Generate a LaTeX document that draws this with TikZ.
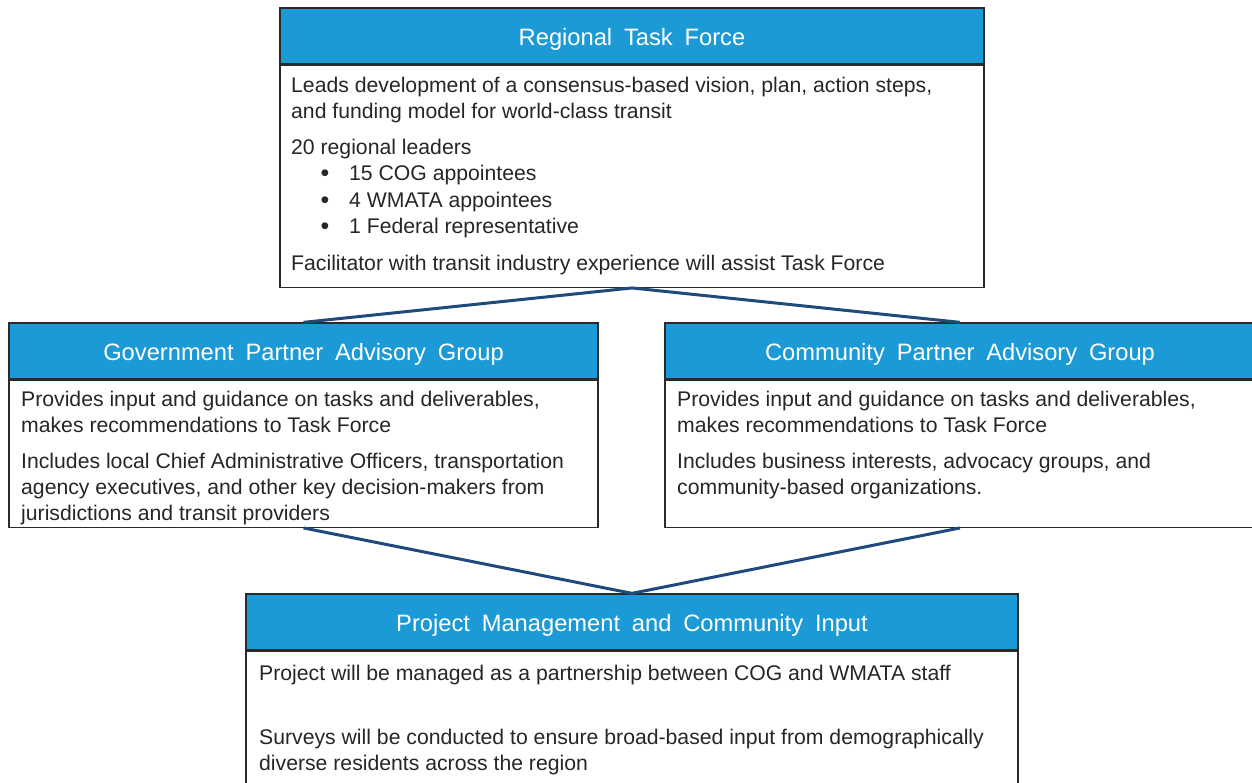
\documentclass[tikz,border=0pt]{standalone}
\usepackage{fontspec}
\setmainfont{Liberation Sans}
\definecolor{hdrblue}{HTML}{1B9AD6}
\definecolor{connblue}{HTML}{1F4A7A}
\definecolor{txtgray}{HTML}{262626}
\definecolor{edgegray}{HTML}{2A2A2A}
\newcommand{\hs}{\hspace{0.5em}}
\begin{document}
\begin{tikzpicture}[x=1pt,y=-1pt,
  hdr/.style={draw=edgegray,line width=1.3pt,fill=hdrblue,inner sep=0pt},
  hdrtxt/.style={anchor=base,inner sep=0pt,text=white,font=\fontsize{23.7}{28}\selectfont},
  bodybox/.style={draw=edgegray,line width=1.3pt,fill=white,inner sep=0pt,anchor=north},
  bodytxt/.style={anchor=base west,inner sep=0pt,text=txtgray,font=\fontsize{21.2}{25}\selectfont},
  bullet/.style={anchor=base,inner sep=0pt,text=txtgray,font=\fontsize{25}{25}\selectfont},
  conn/.style={draw=connblue,line width=3pt}]
\clip (0,0) rectangle (1252,782);
\fill[white] (0,0) rectangle (1252,782);
% top box
\node[hdr,minimum width=704pt,minimum height=56pt] (tfh) at (632,36) {};
\node[bodybox,minimum width=704pt,minimum height=222pt] (tfb) at (tfh.south) {};
\node[hdr,minimum width=704pt,minimum height=56pt] (tfh2) at (632,36) {};
\node[hdrtxt] (tft) at (632,45) {Regional\hs Task\hs Force};
% gov box
\node[hdr,minimum width=589pt,minimum height=56pt] (gph) at (303.5,351) {};
\node[bodybox,minimum width=589pt,minimum height=147pt] (gpb) at (gph.south) {};
\node[hdr,minimum width=589pt,minimum height=56pt] (gph2) at (303.5,351) {};
\node[hdrtxt] (gpt) at (303.5,360) {Government\hs Partner\hs Advisory\hs Group};
% community box
\node[hdr,minimum width=590pt,minimum height=56pt] (cph) at (960,351) {};
\node[bodybox,minimum width=590pt,minimum height=147pt] (cpb) at (cph.south) {};
\node[hdr,minimum width=590pt,minimum height=56pt] (cph2) at (960,351) {};
\node[hdrtxt] (cpt) at (960,360) {Community\hs Partner\hs Advisory\hs Group};
% bottom box
\node[hdr,minimum width=772pt,minimum height=56pt] (pmh) at (632,622) {};
\node[bodybox,minimum width=772pt,minimum height=170pt] (pmb) at (pmh.south) {};
\node[hdr,minimum width=772pt,minimum height=56pt] (pmh2) at (632,622) {};
\node[hdrtxt] (pmt) at (632,631) {Project\hs Management\hs and\hs Community\hs Input};
% connectors
\draw[conn] (tfb.south) -- (gph.north);
\draw[conn] (tfb.south) -- (cph.north);
\draw[conn] (gpb.south) -- (pmh.north);
\draw[conn] (cpb.south) -- (pmh.north);
% top text
\node[bodytxt] (t1) at (291,92) {Leads development of a consensus-based vision, plan, action steps,};
\node[bodytxt] (t2) at (291,118) {and funding model for world-class transit};
\node[bodytxt] (t3) at (291,154) {20 regional leaders};
\node[bullet] (b1) at (325,181) {•};
\node[bodytxt] (t4) at (349,180) {15 COG appointees};
\node[bullet] (b2) at (325,208) {•};
\node[bodytxt] (t5) at (349,207) {4 WMATA appointees};
\node[bullet] (b3) at (325,234) {•};
\node[bodytxt] (t6) at (349,233) {1 Federal representative};
\node[bodytxt] (t7) at (291,270) {Facilitator with transit industry experience will assist Task Force};
% gov text
\node[bodytxt] (g1) at (21,406) {Provides input and guidance on tasks and deliverables,};
\node[bodytxt] (g2) at (21,432) {makes recommendations to Task Force};
\node[bodytxt] (g3) at (21,468) {Includes local Chief Administrative Officers, transportation};
\node[bodytxt] (g4) at (21,494) {agency executives, and other key decision-makers from};
\node[bodytxt] (g5) at (21,520) {jurisdictions and transit providers};
% community text
\node[bodytxt] (c1) at (677,406) {Provides input and guidance on tasks and deliverables,};
\node[bodytxt] (c2) at (677,432) {makes recommendations to Task Force};
\node[bodytxt] (c3) at (677,468) {Includes business interests, advocacy groups, and};
\node[bodytxt] (c4) at (677,494) {community-based organizations.};
% bottom text
\node[bodytxt] (p1) at (259,680) {Project will be managed as a partnership between COG and WMATA staff};
\node[bodytxt] (p2) at (259,744) {Surveys will be conducted to ensure broad-based input from demographically};
\node[bodytxt] (p3) at (259,770) {diverse residents across the region};
\end{tikzpicture}
\end{document}
